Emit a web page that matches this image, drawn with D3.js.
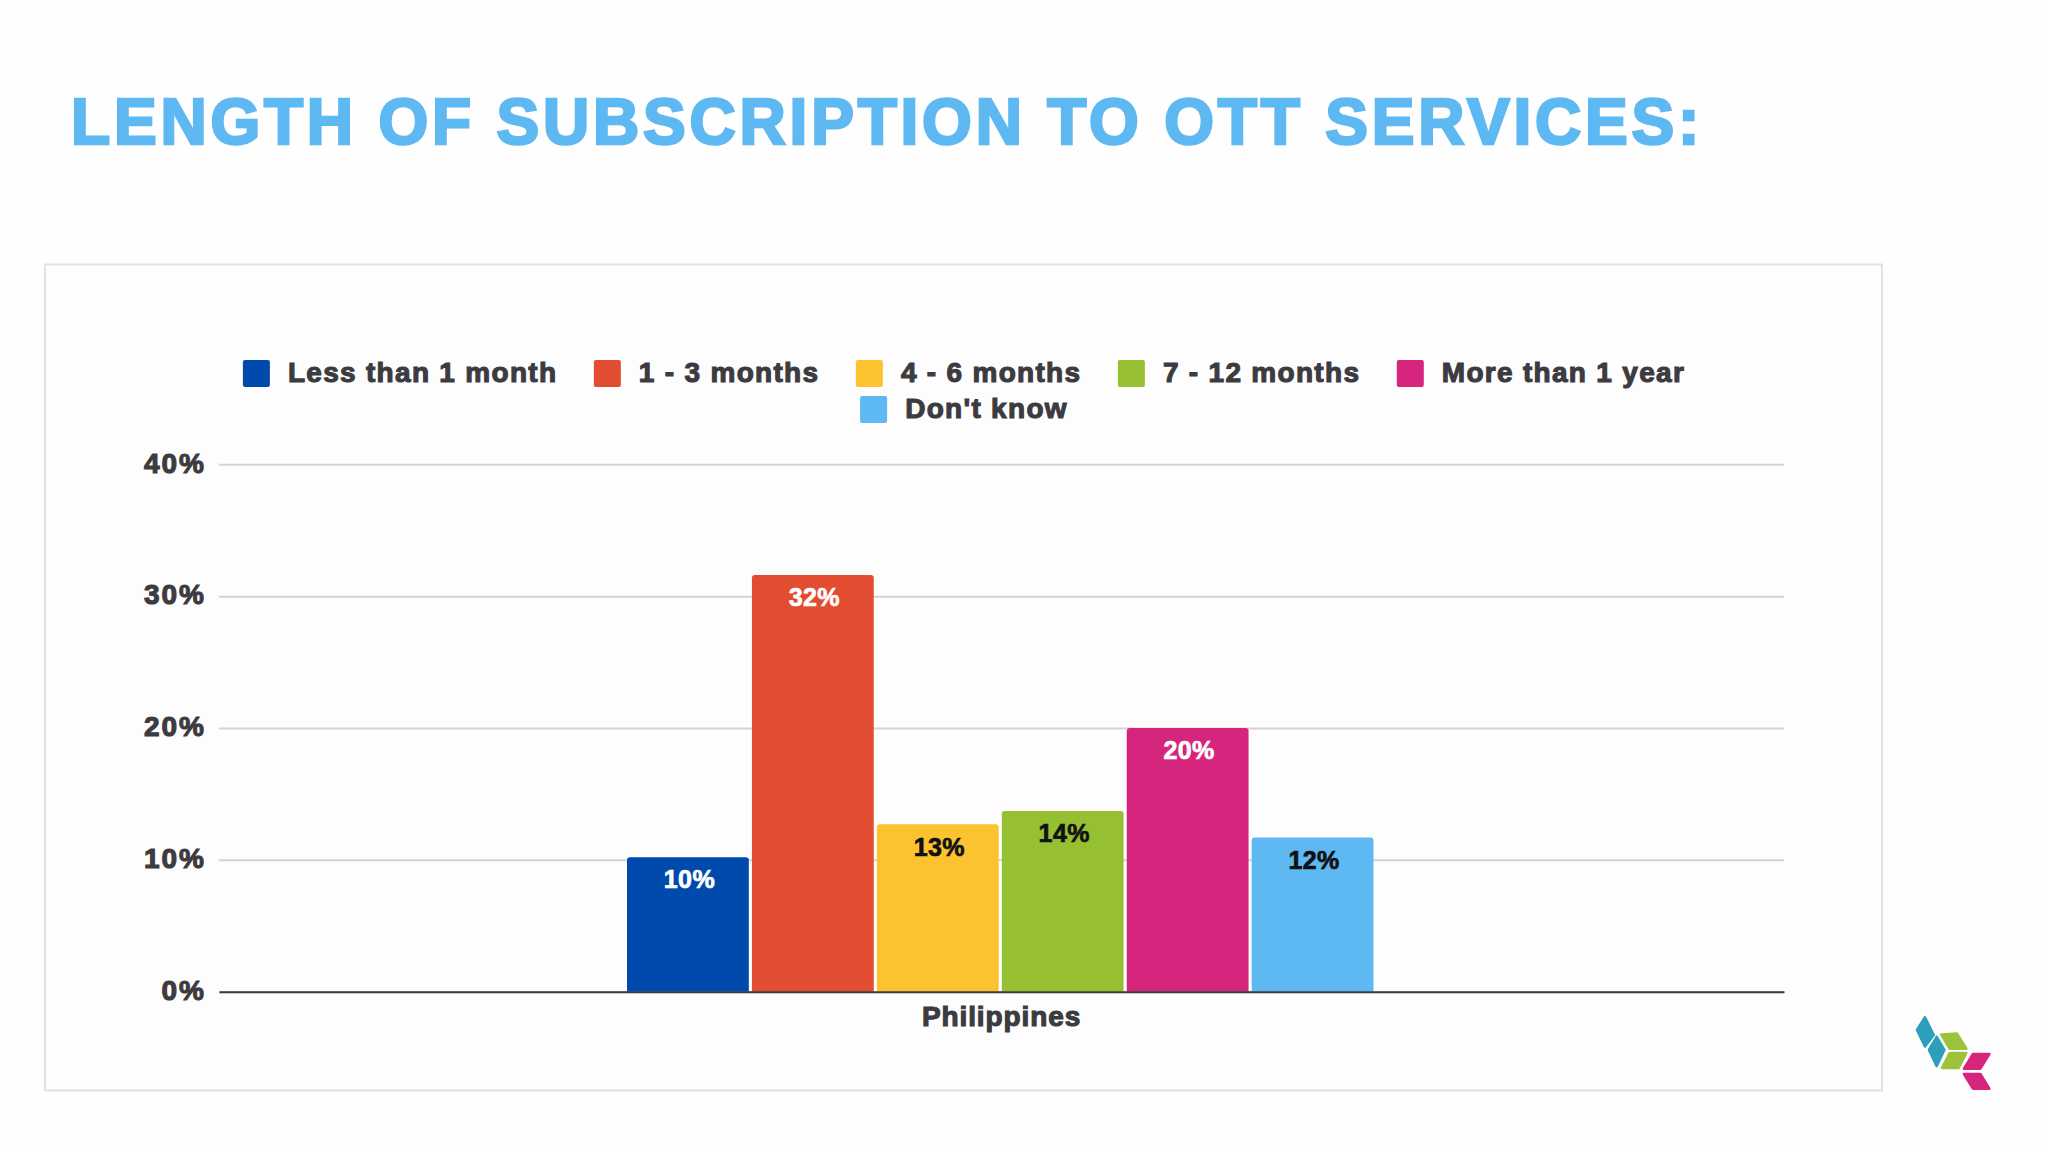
<!DOCTYPE html>
<html>
<head>
<meta charset="utf-8">
<script src="https://cdn.jsdelivr.net/npm/d3@7"></script>
<style>
    html, body { margin: 0; padding: 0; background: #fefefe; }
    svg { display: block; }
    text { font-family: "Liberation Sans", Arial, sans-serif; font-weight: bold; }
</style>
</head>
<body>
<svg id="chart" width="2048" height="1152"></svg>
<script>
// values
const categories = ["Philippines"];
const seriesNames = ["Less than 1 month", "1 - 3 months", "4 - 6 months", "7 - 12 months", "More than 1 year", "Don't know"];
const seriesValues = [10.2, 31.6, 12.7, 13.7, 20, 11.7];
const seriesLabels = ["10%", "32%", "13%", "14%", "20%", "12%"];
const seriesColours = ["#004AAD", "#E24C30", "#FDC22F", "#96BF32", "#D5257C", "#5EB8F2"];
const labelColours = ["#ffffff", "#ffffff", "#111111", "#111111", "#ffffff", "#111111"];
const yTicks = [0, 10, 20, 30, 40];

const svg = d3.select("#chart");
const ink = "#3b3b40";

// title
svg.append("text")
   .attr("x", 71)
   .attr("y", 144)
   .attr("font-size", 64)
   .attr("letter-spacing", 3.8)
   .attr("fill", "#5EB8F2")
   .attr("stroke", "#5EB8F2")
   .attr("stroke-width", 2.6)
   .text("LENGTH OF SUBSCRIPTION TO OTT SERVICES:");

// chart panel
svg.append("rect")
   .attr("x", 45)
   .attr("y", 264.5)
   .attr("width", 1837)
   .attr("height", 826)
   .attr("fill", "#fefdfe")
   .attr("stroke", "#e2e2e4")
   .attr("stroke-width", 2);

// scales
let x0 = d3.scaleBand().domain(categories).range([219, 1784]);
let x1 = d3.scaleBand().domain(seriesNames).range([627, 1373.5]).paddingInner(0.025);
let y = d3.scaleLinear().domain([0, 40]).range([991.7, 464.3]);

// gridlines and y axis
let yAxis = svg.append("g")
   .attr("transform", "translate(219,0)")
   .call(d3.axisLeft(y).tickValues(yTicks).tickSize(-1565).tickPadding(13).tickFormat(d => d + "%"));
yAxis.select(".domain").remove();
yAxis.selectAll("line").attr("stroke", "#d5d1da").attr("stroke-width", 2);
yAxis.selectAll("text")
     .attr("font-size", 28)
     .attr("letter-spacing", 2)
     .attr("dy", "0.28em")
     .attr("fill", ink)
     .attr("stroke", ink)
     .attr("stroke-width", 1.1);

// bars, only the top corners are rounded
function barPath(d, i) {
    let left = x1(seriesNames[i]), right = left + x1.bandwidth(), top = y(d), r = 3;
    return `M${left},${y(0)}V${top + r}Q${left},${top} ${left + r},${top}H${right - r}Q${right},${top} ${right},${top + r}V${y(0)}Z`;
}
svg.append("g").selectAll("path")
   .data(seriesValues)
   .enter().append("path")
   .attr("d", barPath)
   .attr("fill", (d, i) => seriesColours[i]);

// labels inside the bars
svg.append("g").selectAll("text")
   .data(seriesValues)
   .enter().append("text")
   .attr("x", (d, i) => x1(seriesNames[i]) + x1.bandwidth() / 2 + 1.5)
   .attr("y", d => y(d) + 22.5)
   .attr("dy", ".35em")
   .attr("text-anchor", "middle")
   .attr("font-size", 25)
   .attr("letter-spacing", 0.4)
   .attr("fill", (d, i) => labelColours[i])
   .attr("stroke", (d, i) => labelColours[i])
   .attr("stroke-width", 0.7)
   .text((d, i) => seriesLabels[i]);

// x axis
let xAxis = svg.append("g")
   .attr("transform", `translate(0,${y(0)})`)
   .call(d3.axisBottom(x0).tickSize(0).tickPadding(14));
xAxis.select(".domain").attr("stroke", "#3a3a3e").attr("stroke-width", 2);
xAxis.selectAll("text")
     .attr("font-size", 28)
     .attr("letter-spacing", 0.9)
     .attr("fill", ink)
     .attr("stroke", ink)
     .attr("stroke-width", 1.1);

// legend, two centred rows
const legendRows = [seriesNames.slice(0, 5), seriesNames.slice(5)];
const rowY = [373, 409];
legendRows.forEach(function (names, r) {
    let row = svg.append("g");
    let cursor = 0;
    names.forEach(function (name) {
        let item = row.append("g").attr("transform", `translate(${cursor},0)`);
        item.append("rect")
            .attr("y", -13)
            .attr("width", 27)
            .attr("height", 27)
            .attr("rx", 2)
            .attr("fill", seriesColours[seriesNames.indexOf(name)]);
        let label = item.append("text")
            .attr("x", 45)
            .attr("dy", ".33em")
            .attr("font-size", 28)
            .attr("letter-spacing", 1.3)
            .attr("fill", ink)
            .attr("stroke", ink)
            .attr("stroke-width", 1.1)
            .text(name);
        cursor += 45 + label.node().getComputedTextLength() + 36.5;
    });
    row.attr("transform", `translate(${964 - (cursor - 36.5) / 2},${rowY[r]})`);
});

// logo in the bottom right corner
const logo = svg.append("g").attr("transform", "translate(1880,980) scale(0.3333)");
const logoShapes = [
    ["#2E9FBB", "M135,112L161,165L135,199L111,150Z"],
    ["#2E9FBB", "M170,171L193,210L170,258L147,210Z"],
    ["#9CC33B", "M184,164L231,161L259,206L209,206Z"],
    ["#9CC33B", "M209,219L259,219L236,264L186,264Z"],
    ["#D6257D", "M279,222L328,222L301,266L252,266Z"],
    ["#D6257D", "M252,282L301,282L328,326L279,326Z"]
];
logoShapes.forEach(function (s) {
    logo.append("path")
        .attr("d", s[1])
        .attr("fill", s[0])
        .attr("stroke", s[0])
        .attr("stroke-width", 8)
        .attr("stroke-linejoin", "round");
});
</script>
</body>
</html>
